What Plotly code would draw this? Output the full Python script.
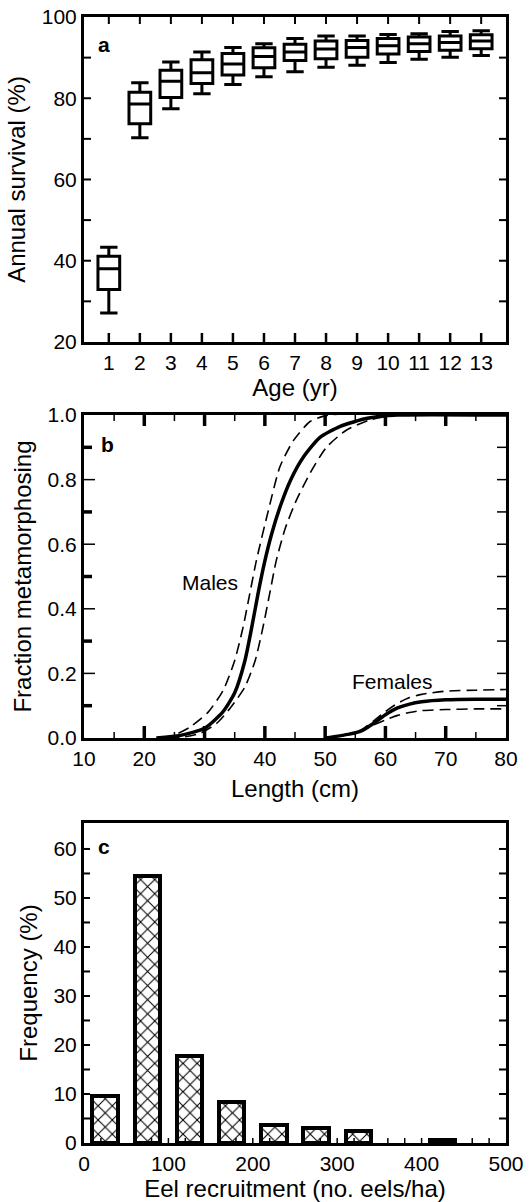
import plotly.graph_objects as go

# ---------------- Panel a: annual survival by age ----------------
ages = list(range(1, 14))
surv_upper = [43.3, 83.8, 88.9, 91.4, 92.5, 93.4, 94.7, 95.3, 95.3, 95.7, 95.9, 96.4, 96.6]
surv_q3 = [41.1, 81.5, 86.9, 89.5, 91.0, 92.4, 93.3, 94.1, 94.2, 94.7, 95.1, 95.3, 95.6]
surv_median = [38.0, 78.6, 84.2, 86.3, 88.4, 90.3, 91.4, 92.1, 92.5, 92.9, 93.4, 93.7, 94.1]
surv_q1 = [32.9, 73.7, 80.2, 83.6, 85.7, 87.5, 89.3, 89.7, 90.1, 90.9, 91.5, 91.8, 92.2]
surv_lower = [27.1, 70.3, 77.4, 81.1, 83.4, 85.3, 86.5, 87.6, 88.1, 88.8, 89.6, 90.1, 90.5]

# ---------------- Panel b: fraction metamorphosing vs length ----------------
male_len = [22, 26, 30, 33, 35, 36.7, 37.8, 38.9, 39.9, 41.1, 42.6, 44.3, 46.4, 49.1, 52.5, 57, 62, 80]
male_mid = [0, 0.008, 0.03, 0.08, 0.14, 0.24, 0.34, 0.45, 0.54, 0.63, 0.72, 0.80, 0.87, 0.93, 0.965, 0.99, 1.0, 1.0]
male_hi_len = [23, 24.3, 27.6, 30.6, 33.1, 35.0, 36.4, 37.5, 38.6, 40.6, 42.5, 44.7, 47.5, 50.5, 80]
male_hi = [0, 0.003, 0.034, 0.08, 0.148, 0.24, 0.344, 0.447, 0.55, 0.706, 0.84, 0.92, 0.98, 1.0, 1.0]
male_lo_len = [24, 26.5, 29.2, 32.0, 34.2, 36.7, 38.4, 39.7, 40.8, 41.9, 43.4, 45.2, 47.5, 50.2, 53.5, 57.4, 62, 80]
male_lo = [0, 0.003, 0.014, 0.045, 0.091, 0.158, 0.24, 0.344, 0.447, 0.55, 0.65, 0.735, 0.82, 0.90, 0.953, 0.985, 1.0, 1.0]

fem_len = [50, 54, 56, 58, 60, 62, 64, 66, 70, 75, 80]
fem_mid = [0, 0.012, 0.022, 0.045, 0.072, 0.093, 0.105, 0.112, 0.118, 0.12, 0.12]
fem_hi = [0, 0.013, 0.025, 0.052, 0.082, 0.107, 0.125, 0.135, 0.145, 0.148, 0.15]
fem_lo = [0, 0.011, 0.021, 0.04, 0.056, 0.07, 0.079, 0.085, 0.088, 0.09, 0.09]

# ---------------- Panel c: recruitment frequency ----------------
recruit_bins = [25, 75, 125, 175, 225, 275, 325, 425]
recruit_freq = [9.5, 54.5, 17.8, 8.3, 3.7, 3.1, 2.5, 0.7]

FONT = "Liberation Sans, Arial, Helvetica, sans-serif"
TICK = 21
TITLE = 24
LETTER = 21
LABEL = 21

W_PX = 422            # plot width in px (530 - 84 - 24)
H_PX = 1126           # plot height in px (1202 - 17 - 59)
DOM_A = [0.7114, 1.0]
DOM_B = [0.3597, 0.6465]
DOM_C = [0.0, 0.2842]

fig = go.Figure()

fig.add_trace(go.Box(
    x=ages, q1=surv_q1, median=surv_median, q3=surv_q3,
    lowerfence=surv_lower, upperfence=surv_upper,
    width=0.7, whiskerwidth=0.8,
    line=dict(color="black", width=3), fillcolor="white",
    boxpoints=False, showlegend=False, xaxis="x", yaxis="y"))

def curve(xs, ys, w, dash):
    fig.add_trace(go.Scatter(
        x=xs, y=ys, mode="lines",
        line=dict(color="black", width=w, dash=dash, shape="spline", smoothing=0.6),
        showlegend=False, xaxis="x2", yaxis="y2"))

curve(male_hi_len, male_hi, 1.6, "11px,6px")
curve(male_lo_len, male_lo, 1.6, "11px,6px")
curve(male_len, male_mid, 3.5, "solid")
curve(fem_len, fem_hi, 1.6, "11px,6px")
curve(fem_len, fem_lo, 1.6, "11px,6px")
curve(fem_len, fem_mid, 3.5, "solid")

fig.add_trace(go.Bar(
    x=recruit_bins, y=recruit_freq, width=30,
    marker=dict(color="white", line=dict(color="black", width=4),
                pattern=dict(shape="x", fgcolor="black", bgcolor="white", size=10, solidity=0.2)),
    showlegend=False, xaxis="x3", yaxis="y3"))


# ---- inward tick marks drawn along the axes (positions in axis units, lengths in px) ----
shapes = []

def xticks(ax, vals, dom, length, width, side, color="black"):
    frac = length / ((dom[1] - dom[0]) * H_PX)
    y0, y1 = (0, frac) if side == "bottom" else (1, 1 - frac)
    ya = "y" + ax[1:]
    for v in vals:
        shapes.append(dict(type="line", xref=ax, yref="paper",
                           x0=v, x1=v,
                           y0=dom[0] + y0 * (dom[1] - dom[0]), y1=dom[0] + y1 * (dom[1] - dom[0]),
                           layer="above", line=dict(color=color, width=width)))

def yticks(ax, vals, length, width, side, color="black"):
    frac = length / W_PX
    x0, x1 = (0, frac) if side == "left" else (1, 1 - frac)
    for v in vals:
        shapes.append(dict(type="line", xref="paper", yref=ax,
                           x0=x0, x1=x1, y0=v, y1=v, layer="above",
                           line=dict(color=color, width=width)))

# panel a
xticks("x", ages, DOM_A, 9, 2.5, "bottom")
xticks("x", ages, DOM_A, 7, 2, "top")
yticks("y", [30, 40, 50, 60, 70, 80, 90], 7, 2, "left")
yticks("y", [30, 40, 50, 60, 70, 80, 90], 7, 2, "right")
# panel b
xticks("x2", [20, 30, 40, 50, 60, 70], DOM_B, 12, 3.5, "bottom")
xticks("x2", [15, 25, 35, 45, 55, 65, 75], DOM_B, 6, 1.5, "bottom")
xticks("x2", [20, 30, 40, 50, 60, 70], DOM_B, 11, 3.5, "top")
xticks("x2", [15, 25, 35, 45, 55, 65, 75], DOM_B, 6, 1.5, "top")
yticks("y2", [0.1, 0.3, 0.5, 0.7, 0.9], 8, 3.5, "left")
yticks("y2", [0.2, 0.4, 0.6, 0.8], 11, 1.5, "left")
yticks("y2", [0.1, 0.2, 0.3, 0.4, 0.5, 0.6, 0.7, 0.8, 0.9], 9, 1.5, "right")
# panel c
xticks("x3", list(range(20, 500, 20)), DOM_C, 5, 1.5, "bottom")
yticks("y3", list(range(5, 65, 5)), 6, 2, "left")
yticks("y3", list(range(5, 65, 5)), 7, 2, "right")


def main_ax(**kw):
    d = dict(showgrid=False, zeroline=False, showline=True, linecolor="black", linewidth=3,
             mirror=True, ticks="", tickfont=dict(family=FONT, size=TICK, color="black"))
    d.update(kw)
    return d


def ttl(text, standoff):
    return dict(text=text, standoff=standoff, font=dict(family=FONT, size=TITLE, color="black"))


fig.update_layout(
    template="none",
    width=530, height=1202,
    margin=dict(l=84, r=24, t=17, b=59),
    paper_bgcolor="white", plot_bgcolor="white",
    font=dict(family=FONT, color="black"),
    bargap=0,
    xaxis=main_ax(domain=[0, 1], anchor="y", range=[0.2, 13.8], tickmode="linear", tick0=1, dtick=1,
                  title=ttl("Age (yr)", 2)),
    yaxis=main_ax(domain=DOM_A, anchor="x", range=[20, 100], tickmode="linear", tick0=20, dtick=20,
                  title=ttl("Annual survival (%)", 10)),
    xaxis2=main_ax(domain=[0, 1], anchor="y2", range=[10, 80], tickmode="linear", tick0=10, dtick=10,
                   title=ttl("Length (cm)", 12)),
    yaxis2=main_ax(domain=DOM_B, anchor="x2", range=[0, 1.0], tickmode="linear", tick0=0, dtick=0.2,
                   tickformat=".1f", title=ttl("Fraction metamorphosing", 10)),
    xaxis3=main_ax(domain=[0, 1], anchor="y3", range=[0, 500], tickmode="linear", tick0=0, dtick=100,
                   title=ttl("Eel recruitment (no. eels/ha)", 10)),
    yaxis3=main_ax(domain=DOM_C, anchor="x3", range=[0, 65.3], tickmode="linear", tick0=0, dtick=10,
                   title=ttl("Frequency (%)", 10)),
    shapes=shapes,
    annotations=[
        dict(text="<b>a</b>", x=0.58, y=93.3, xref="x", yref="y", xanchor="left", yanchor="middle",
             showarrow=False, font=dict(family=FONT, size=LETTER, color="black")),
        dict(text="<b>b</b>", x=12.5, y=0.91, xref="x2", yref="y2", xanchor="left", yanchor="middle",
             showarrow=False, font=dict(family=FONT, size=LETTER, color="black")),
        dict(text="<b>c</b>", x=14, y=60.5, xref="x3", yref="y3", xanchor="left", yanchor="middle",
             showarrow=False, font=dict(family=FONT, size=LETTER, color="black")),
        dict(text="Males", x=30.9, y=0.48, xref="x2", yref="y2", showarrow=False,
             font=dict(family=FONT, size=LABEL, color="black")),
        dict(text="Females", x=61.2, y=0.176, xref="x2", yref="y2", showarrow=False,
             font=dict(family=FONT, size=LABEL, color="black")),
    ],
)

fig.write_html("out.html")
